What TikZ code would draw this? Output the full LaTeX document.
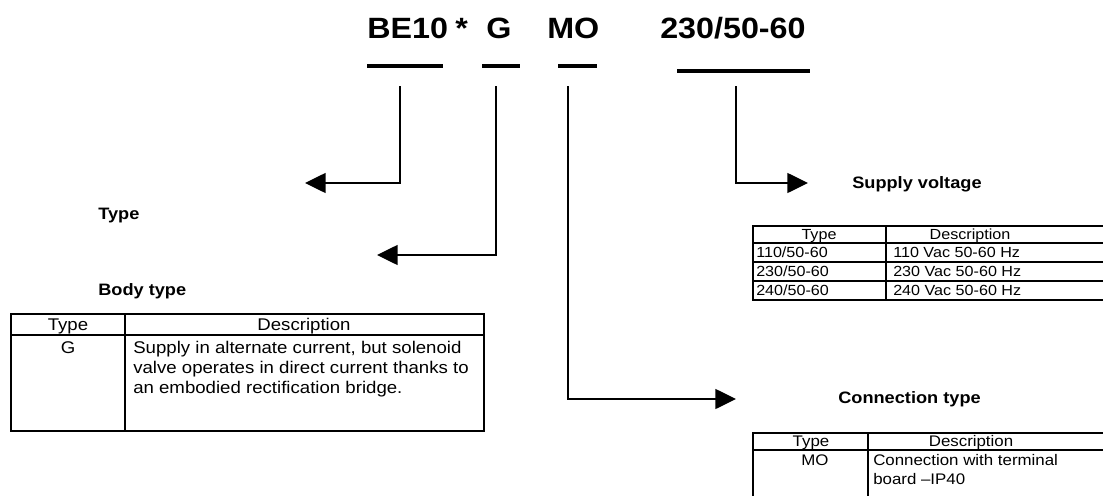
\documentclass[tikz,border=0pt]{standalone}
\usepackage{fontspec}
\setmainfont{Liberation Sans}[FakeStretch=1.1]
\usetikzlibrary{arrows.meta}
\begin{document}
\begin{tikzpicture}[x=0.75pt,y=-0.75pt,
  bar/.style={line width=3.6pt},
  conn/.style={line width=1.1pt,-{Triangle[length=15.5pt,width=15pt]}},
  grid/.style={line width=1.1pt},
  title/.style={font=\fontsize{22}{26}\selectfont\bfseries, anchor=base west, inner sep=0},
  lbl/.style={font=\fontsize{12.4}{15}\selectfont\bfseries, anchor=base west, inner sep=0},
  cell/.style={font=\fontsize{11}{14}\selectfont, anchor=base, inner sep=0},
  cellw/.style={font=\fontsize{11}{14}\selectfont, anchor=base west, inner sep=0},
  ccell/.style={font=\fontsize{11.5}{14}\selectfont, anchor=base, inner sep=0},
  ccellw/.style={font=\fontsize{11.5}{14}\selectfont, anchor=base west, inner sep=0},
  bcell/.style={font=\fontsize{12.7}{15}\selectfont, anchor=base, inner sep=0},
  bcellw/.style={font=\fontsize{12.7}{15}\selectfont, anchor=base west, inner sep=0},
]
\clip (0,0) rectangle (1103,496);
\fill[white] (0,0) rectangle (1103,496);

% code line
\node[title] (be) at (367,38) {BE10};
\node[title] (st) at (455,38) {*};
\node[title] (g) at (486,38) {G};
\node[title] (mo) at (547,38) {MO};
\node[title] (volt) at (660,38) {230/50-60};

\draw[bar] (367,66) -- (443,66);
\draw[bar] (482,66) -- (520,66);
\draw[bar] (558,66) -- (597,66);
\draw[bar] (677,71) -- (810,71);

% connectors
\coordinate (s1) at (400,86);  \coordinate (t1) at (305,183);
\coordinate (s2) at (496,86);  \coordinate (t2) at (377,255);
\coordinate (s3) at (568,86);  \coordinate (t3) at (736,399);
\coordinate (s4) at (736,86);  \coordinate (t4) at (808,183);
\draw[conn] (s1) |- (t1);
\draw[conn] (s2) |- (t2);
\draw[conn] (s3) |- (t3);
\draw[conn] (s4) |- (t4);

% labels
\node[lbl] (ltype) at (98,219) {Type};
\node[lbl] (lbody) at (98,295) {Body type};
\node[lbl] (lsup) at (852,188) {Supply voltage};
\node[lbl] (lcon) at (838,403) {Connection type};

% body type table
\draw[grid] (11,314) rectangle (484,431);
\draw[grid] (11,335) -- (484,335);
\draw[grid] (125,314) -- (125,431);
\node[bcell] (bh1) at (68,330) {Type};
\node[bcell] (bh2) at (304,330) {Description};
\node[bcell] (bg) at (68,353) {G};
\node[bcellw] (bd1) at (133,353) {Supply in alternate current, but solenoid};
\node[bcellw] (bd2) at (133,373) {valve operates in direct current thanks to};
\node[bcellw] (bd3) at (133,393) {an embodied rectification bridge.};

% supply voltage table
\draw[grid] (753,226) rectangle (1110,300);
\draw[grid] (753,243) -- (1110,243);
\draw[grid] (753,262) -- (1110,262);
\draw[grid] (753,281) -- (1110,281);
\draw[grid] (886,226) -- (886,300);
\node[cell] (sh1) at (819,239) {Type};
\node[cell] (sh2) at (970,239) {Description};
\node[cellw] (sa1) at (756,257) {110/50-60};
\node[cellw] (sb1) at (893,257) {110 Vac 50-60 Hz};
\node[cellw] (sa2) at (756,276) {230/50-60};
\node[cellw] (sb2) at (893,276) {230 Vac 50-60 Hz};
\node[cellw] (sa3) at (756,295) {240/50-60};
\node[cellw] (sb3) at (893,295) {240 Vac 50-60 Hz};

% connection type table
\draw[grid] (753,433) rectangle (1110,520);
\draw[grid] (753,450) -- (1110,450);
\draw[grid] (868,433) -- (868,520);
\node[ccell] (ch1) at (811,446) {Type};
\node[ccell] (ch2) at (971,446) {Description};
\node[ccell] (cmo) at (815,465) {MO};
\node[ccellw] (cd1) at (873,465) {Connection with terminal};
\node[ccellw] (cd2) at (873,484) {board –IP40};
\end{tikzpicture}
\end{document}
